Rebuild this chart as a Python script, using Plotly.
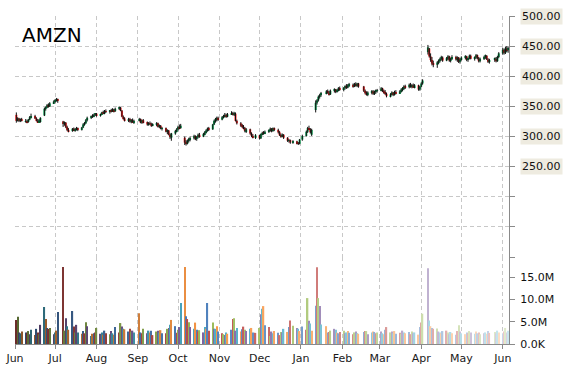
import pandas as pd
import plotly.graph_objects as go

# ---------------- data ----------------
ticker = "AMZN"
holidays = ["2014-07-04", "2014-09-01", "2014-11-27", "2014-12-25", "2015-01-01",
            "2015-01-19", "2015-02-16", "2015-04-03", "2015-05-25"]
dates = pd.bdate_range("2014-06-02", "2015-06-05", freq="C", holidays=holidays)

opens = [
    336, 327, 330, 326, 329,  325, 325, 324, 328, 332,  334, 330, 326, 324, 324,
    335, 346, 348, 352, 350,  355, 358, 360, 362,
    325, 322, 323, 316, 311,  309, 313, 310, 312, 314,  311, 315, 320, 322, 327,
    331, 334, 333, 336, 338,  335, 337, 340, 338, 342,  341, 343, 342, 345, 342,
    346, 348, 343, 333, 330,  327, 329, 325, 327, 324,  326, 329, 323, 327,
    324, 320, 322, 321, 318,  320, 322, 316, 318, 313,  314, 308, 310, 303, 298,
    305, 309, 312, 316, 314,  298, 290, 288, 293, 295,  297, 301, 296, 299, 303,
    300, 304, 307, 310, 313,  312, 320, 326, 328, 331,  328, 332, 334, 336, 333,
    337, 339, 337, 338, 326,  322, 318, 316, 314, 309,  312, 305, 301, 299,
    302, 297, 304, 306, 305,  308, 310, 313, 309, 314,  311, 307, 302, 300, 303,
    298, 293, 294, 290,  292, 289, 288, 295,  301, 308, 314, 312, 303,
    344, 356, 360, 366, 369,  372, 375, 373, 370,  376, 378, 374, 377, 380,
    378, 381, 383, 381, 385,  386, 383, 387, 385, 388,  383, 376, 372, 370,
    373, 375, 371, 374, 376,  377, 380, 376, 373, 371,  367, 370, 373, 369, 374,
    372, 375, 378, 380, 383,  382, 386, 383, 385, 382,  385, 378, 383, 388,
    440, 446, 433, 427, 421,  419, 423, 426, 429, 431,  426, 430, 433, 426, 429,
    432, 428, 431, 424, 428,  431, 433, 427, 430, 434,  429, 431, 435, 430, 425,
    429, 432, 434, 428, 424,  427, 429, 425, 432,  438, 444, 439, 446, 443,
]
highs = [
    340, 332, 331, 330, 331,  329, 328, 329, 334, 338,  336, 332, 329, 329, 332,
    348, 350, 354, 355, 357,  360, 362, 364, 363,
    326, 325, 324, 318, 314,  314, 315, 314, 316, 315,  316, 322, 324, 329, 333,
    335, 337, 338, 339, 339,  338, 341, 343, 344, 345,  344, 346, 347, 346, 348,
    350, 349, 344, 335, 332,  331, 331, 329, 330, 328,  331, 330, 328, 329,
    325, 324, 325, 323, 322,  324, 323, 320, 319, 316,  315, 312, 311, 305, 306,
    311, 314, 318, 320, 321,  300, 294, 295, 298, 300,  303, 302, 301, 305, 306,
    306, 309, 312, 315, 316,  321, 328, 331, 333, 333,  334, 336, 339, 338, 339,
    342, 341, 341, 340, 328,  324, 321, 319, 316, 314,  313, 307, 304, 304,
    303, 305, 308, 309, 310,  312, 315, 314, 315, 315,  313, 309, 305, 305, 304,
    299, 296, 295, 294,  293, 291, 296, 303,  310, 316, 318, 314, 313,
    360, 362, 368, 371, 374,  377, 378, 376, 378,  380, 379, 379, 382, 383,
    382, 385, 387, 387, 389,  388, 389, 390, 389, 389,  384, 378, 375, 375,
    377, 377, 376, 378, 379,  382, 381, 378, 377, 373,  372, 375, 374, 376, 377,
    377, 380, 382, 385, 386,  388, 389, 387, 388, 387,  386, 384, 390, 395,
    452, 447, 438, 432, 426,  425, 428, 431, 434, 433,  432, 435, 434, 431, 435,
    434, 433, 432, 430, 433,  435, 434, 431, 436, 436,  433, 437, 436, 432, 431,
    434, 436, 435, 430, 429,  431, 432, 434, 440,  447, 446, 449, 450, 449,
]
lows = [
    323, 325, 324, 324, 325,  323, 322, 323, 327, 330,  329, 325, 323, 323, 323,
    334, 343, 347, 348, 349,  354, 356, 358, 356,
    316, 318, 314, 309, 307,  308, 309, 308, 310, 309,  310, 314, 318, 321, 325,
    329, 331, 332, 334, 333,  333, 336, 337, 337, 339,  338, 340, 341, 340, 341,
    344, 342, 332, 328, 325,  324, 323, 322, 323, 321,  325, 322, 321, 322,
    318, 318, 319, 316, 317,  317, 315, 314, 312, 310,  307, 304, 302, 296, 293,
    303, 307, 310, 312, 313,  286, 285, 287, 290, 292,  295, 294, 293, 297, 298,
    299, 302, 305, 308, 309,  311, 319, 323, 325, 326,  327, 330, 332, 331, 332,
    336, 335, 334, 325, 320,  316, 314, 312, 307, 306,  303, 299, 297, 296,
    295, 296, 302, 303, 304,  306, 308, 307, 308, 309,  305, 301, 298, 299, 296,
    291, 290, 288, 288,  287, 286, 287, 293,  300, 306, 311, 305, 301,
    340, 353, 358, 363, 366,  370, 371, 368, 369,  373, 372, 373, 375, 376,
    375, 378, 379, 380, 382,  381, 382, 383, 382, 381,  374, 370, 368, 367,
    370, 369, 369, 371, 373,  375, 374, 371, 369, 365,  365, 368, 367, 368, 370,
    371, 373, 375, 377, 379,  380, 381, 380, 381, 380,  376, 376, 382, 386,
    436, 431, 424, 418, 415,  414, 420, 423, 426, 424,  425, 427, 424, 423, 427,
    426, 424, 422, 421, 426,  428, 425, 424, 428, 428,  426, 429, 428, 423, 423,
    427, 429, 427, 422, 421,  424, 423, 424, 430,  436, 436, 437, 440, 439,
]
closes = [
    326, 330, 326, 329, 327,  325, 324, 328, 332, 334,  330, 326, 324, 327, 331,
    346, 348, 352, 350, 355,  358, 360, 362, 359,
    322, 323, 316, 311, 309,  313, 310, 312, 314, 311,  315, 320, 322, 327, 331,
    334, 333, 336, 338, 335,  337, 340, 338, 342, 341,  343, 342, 345, 342, 346,
    348, 343, 333, 330, 327,  329, 325, 327, 324, 326,  329, 323, 327, 324,
    320, 322, 321, 318, 320,  322, 316, 318, 313, 314,  308, 310, 303, 299, 305,
    309, 312, 316, 314, 318,  290, 288, 293, 295, 297,  301, 296, 299, 303, 300,
    304, 307, 310, 313, 312,  320, 326, 328, 331, 328,  332, 334, 336, 333, 337,
    339, 337, 338, 326, 322,  318, 316, 314, 309, 312,  305, 301, 299, 302,
    297, 304, 306, 305, 308,  310, 313, 309, 314, 311,  307, 302, 300, 303, 298,
    293, 294, 290, 292,  289, 288, 295, 301,  308, 314, 312, 307, 311,
    356, 360, 366, 369, 372,  375, 373, 370, 376,  378, 374, 377, 380, 378,
    381, 383, 381, 385, 386,  383, 387, 385, 388, 383,  376, 372, 370, 373,
    375, 371, 374, 376, 377,  380, 376, 373, 371, 367,  370, 373, 369, 374, 372,
    375, 378, 380, 383, 382,  386, 383, 385, 382, 385,  378, 383, 388, 393,
    448, 433, 427, 421, 419,  423, 426, 429, 431, 426,  430, 433, 426, 429, 432,
    428, 431, 424, 428, 431,  433, 427, 430, 434, 429,  431, 435, 430, 425, 429,
    432, 434, 428, 424, 427,  429, 425, 432, 438,  444, 439, 446, 443, 447,
]
volumes_m = [
    5.4, 6.1, 2.6, 2.4, 2.8,  2.6, 2.5, 2.9, 2.2, 3.2,  2.0, 3.4, 2.6, 2.2, 4.3,
    8.3, 5.6, 3.6, 3.4, 3.6,  2.2, 2.6, 3.0, 7.2,
    17.3, 3.0, 5.8, 4.0, 3.2,  7.4, 3.9, 2.6, 4.3, 2.6,  2.3, 2.9, 2.4, 4.9, 4.0,
    1.8, 2.3, 2.4, 2.6, 3.6,  2.3, 2.6, 2.1, 3.0, 2.4,  2.2, 2.9, 2.4, 2.1, 3.8,
    2.6, 4.7, 3.9, 3.4, 3.3,  2.8, 3.4, 2.8, 3.0, 2.6,  6.9, 2.6, 2.4, 3.4,
    2.4, 3.0, 2.6, 3.0, 2.0,  2.8, 3.0, 2.6, 3.1, 2.4,  2.4, 3.4, 3.6, 4.3, 5.4,
    4.0, 2.5, 3.2, 3.8, 9.2,  17.3, 6.2, 5.6, 4.9, 3.8,  3.4, 4.8, 3.2, 2.8, 3.1,
    2.6, 3.8, 3.4, 9.2, 3.0,  4.8, 3.4, 3.4, 4.0, 2.8,  2.4, 2.2, 2.0, 2.6, 2.3,
    3.2, 5.6, 5.8, 3.0, 3.6,  2.8, 3.3, 3.9, 3.2, 2.9,  3.4, 3.6, 2.6, 2.5,
    3.6, 6.7, 7.9, 8.5, 4.2,  3.8, 1.8, 2.8, 2.4, 2.9,  2.5, 2.0, 2.7, 2.6, 3.4,
    2.7, 3.8, 5.3, 4.1,  3.6, 3.4, 2.9, 3.9,  3.2, 10.3, 5.2, 4.6, 3.0,
    8.6, 17.2, 10.3, 8.5, 4.4,  4.0, 2.6, 2.7, 3.0,  3.4, 3.2, 2.5, 2.4, 2.7,
    3.0, 2.4, 2.6, 2.9, 2.5,  2.2, 2.6, 2.8, 2.4, 2.3,  2.7, 2.9, 2.9, 2.2,
    2.6, 2.8, 2.7, 2.4, 2.6,  2.8, 2.4, 2.2, 3.2, 3.8,  2.6, 2.8, 2.4, 2.9, 2.3,
    2.5, 2.3, 3.0, 2.6, 2.4,  2.7, 2.2, 2.8, 2.4, 2.6,  2.1, 3.8, 4.8, 6.8,
    17.0, 5.3, 4.0, 3.6, 3.4,  3.5, 2.8, 2.6, 2.4, 2.9,  3.0, 2.6, 2.2, 2.7, 2.4,
    2.1, 2.9, 4.2, 2.8, 2.4,  2.2, 2.6, 2.4, 2.9, 2.6,  2.3, 2.8, 2.4, 2.6, 2.2,
    2.4, 2.6, 2.3, 2.9, 2.5,  2.7, 2.4, 3.0, 2.6,  2.4, 2.8, 3.6, 2.6, 3.0,
]
price_ticks = [250, 300, 350, 400, 450, 500]
vol_tickvals = [0, 5e6, 10e6, 15e6]
vol_ticktext = ["0.0K", "5.0M", "10.0M", "15.0M"]

assert len(dates) == len(opens) == len(highs) == len(lows) == len(closes) == len(volumes_m)

volumes = [v * 1e6 for v in volumes_m]

# ---------------- styling ----------------
base_cols = ["#4F81BD", "#C0504D", "#9BBB59", "#8064A2", "#4BACC6", "#F79646"]


def shade(hexc, f):
    r, g, b = (int(hexc[i:i + 2], 16) for i in (1, 3, 5))
    if f < 0:
        r, g, b = (c * (1 + f) for c in (r, g, b))
    else:
        r, g, b = (c + (255 - c) * f for c in (r, g, b))
    return "rgb(%d,%d,%d)" % (round(r), round(g), round(b))


n = len(dates)
bar_colors = [shade(base_cols[(i + 1) % 6], -0.45 + 1.15 * i / (n - 1)) for i in range(n)]

UP = "#00a651"
DOWN = "#ff1a1a"
body_base = [min(o, c) for o, c in zip(opens, closes)]
body_len = [max(abs(c - o), 0.6) for o, c in zip(opens, closes)]
body_cols = [UP if c >= o else DOWN for o, c in zip(opens, closes)]

wick_x, wick_y = [], []
for d, h, l in zip(dates, highs, lows):
    wick_x += [d, d, None]
    wick_y += [l, h, None]

FONT = "DejaVu Sans"
GRID = "#c8c8c8"
AXIS = "#8a8a8a"
DAY = 86400000

fig = go.Figure()
# candle bodies
fig.add_trace(go.Bar(
    x=dates, y=body_len, base=body_base, width=DAY * 1.5,
    marker=dict(color=body_cols, line=dict(width=0)),
    xaxis="x", yaxis="y", hoverinfo="skip",
))
# candle wicks
fig.add_trace(go.Scatter(
    x=wick_x, y=wick_y, mode="lines", line=dict(color="#111111", width=1),
    xaxis="x", yaxis="y", hoverinfo="skip", connectgaps=False,
))
# volume
fig.add_trace(go.Bar(
    x=dates, y=volumes, marker=dict(color=bar_colors, line=dict(width=0)),
    width=DAY * 1.0, xaxis="x", yaxis="y2", hoverinfo="skip",
))

annotations = [dict(
    text=ticker, xref="paper", yref="paper", x=0, y=1, xanchor="left", yanchor="top",
    xshift=5, yshift=-5, showarrow=False, font=dict(family=FONT, size=20, color="#000000"),
)]
for v in price_ticks:
    annotations.append(dict(
        text="%.2f" % v, xref="paper", yref="y", x=1, y=v, xanchor="left", yanchor="middle",
        xshift=11, showarrow=False, bgcolor="#eeebe0", borderpad=1,
        font=dict(family=FONT, size=11, color="#111111"),
    ))

fig.update_layout(
    width=570, height=370,
    margin=dict(l=15, r=61, t=16, b=26, autoexpand=False),
    paper_bgcolor="white", plot_bgcolor="white",
    showlegend=False, barmode="overlay",
    annotations=annotations,
    xaxis=dict(
        type="date", range=["2014-06-01", "2015-06-05 16:00"], anchor="y2",
        tickformat="%b", dtick="M1", tick0="2014-06-01",
        showgrid=True, gridcolor=GRID, griddash="4px,3px", gridwidth=1,
        showline=True, linecolor=AXIS, linewidth=1,
        ticks="outside", ticklen=4, tickcolor=AXIS,
        tickfont=dict(family=FONT, size=11, color="#1a1a1a"),
        zeroline=False, automargin=False,
    ),
    yaxis=dict(
        domain=[0.265, 1], range=[100, 500], side="right", anchor="x",
        dtick=50, tick0=0, showgrid=True, gridcolor=GRID, griddash="4px,3px",
        showline=True, linecolor=AXIS, linewidth=1,
        ticks="outside", ticklen=5, tickcolor=AXIS,
        showticklabels=False, zeroline=False, automargin=False,
    ),
    yaxis2=dict(
        domain=[0, 0.265], range=[0, 19.5e6], side="right", anchor="x",
        tickvals=vol_tickvals, ticktext=vol_ticktext, showgrid=False,
        showline=True, linecolor=AXIS, linewidth=1,
        ticks="outside", ticklen=5, tickcolor=AXIS, ticklabelstandoff=3,
        tickfont=dict(family=FONT, size=11, color="#111111"),
        zeroline=False, automargin=False,
    ),
)

fig.write_html(
    "out.html",
    config={"displayModeBar": False},
    post_script="document.body.style.margin='0';document.body.style.overflow='hidden';",
)
